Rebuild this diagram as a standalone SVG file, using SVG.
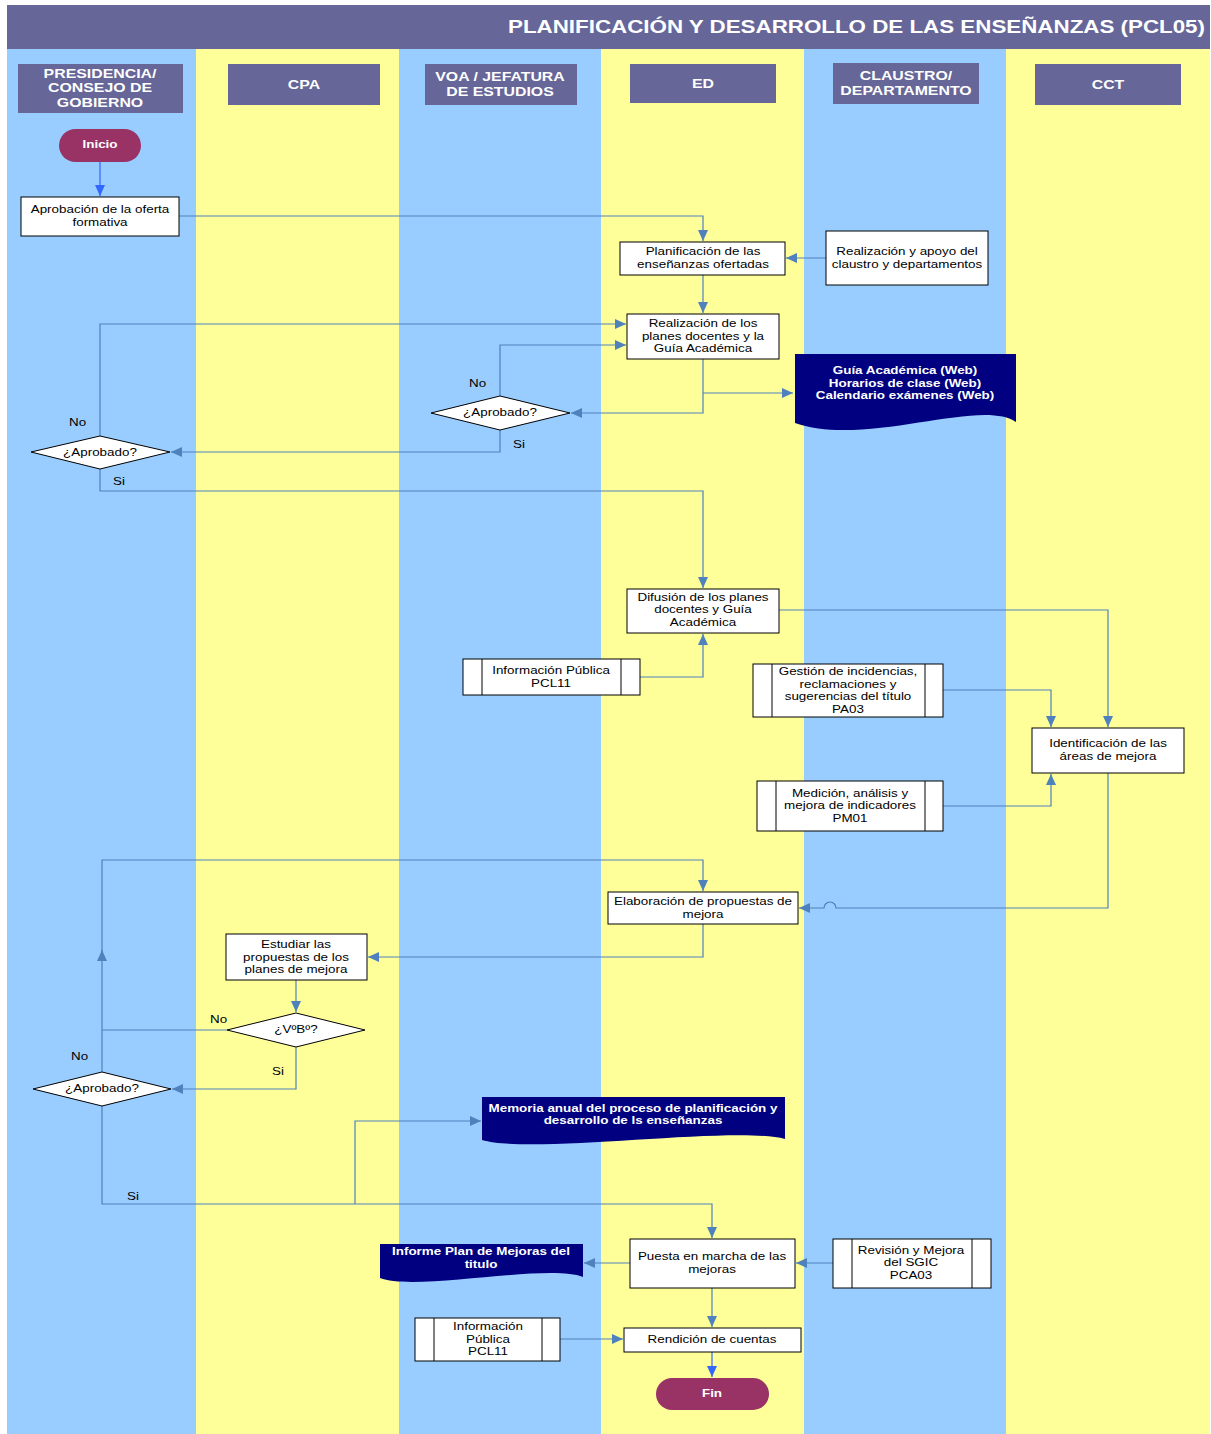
<svg xmlns="http://www.w3.org/2000/svg" width="1211" height="1434" viewBox="0 0 1211 1434">
<style>
.t{font-family:"Liberation Sans",Arial,sans-serif;font-size:11px;fill:#000;text-anchor:middle}
.w{font-family:"Liberation Sans",Arial,sans-serif;font-size:11px;font-weight:bold;fill:#fff;text-anchor:middle}
.h{font-family:"Liberation Sans",Arial,sans-serif;font-size:13px;font-weight:bold;fill:#fff;text-anchor:middle}
.lbl{font-family:"Liberation Sans",Arial,sans-serif;font-size:11px;fill:#000}
.box{fill:#fff;stroke:#000;stroke-width:1}
.hdr{fill:#666699}
.doc{fill:#000080}
.term{fill:#993366}
.c{fill:none;stroke:#4F81BD;stroke-width:1.2}
.cb{fill:none;stroke:#3366FF;stroke-width:1.2}
.blue{fill:#99CCFF}
.yel{fill:#FFFF99}
</style>
<defs>
<marker id="a" markerUnits="userSpaceOnUse" markerWidth="12" markerHeight="10" refX="11" refY="5" orient="auto"><path d="M0,0 L11,5 L0,10 Z" fill="#4F81BD"/></marker>
<marker id="ab" markerUnits="userSpaceOnUse" markerWidth="12" markerHeight="10" refX="11" refY="5" orient="auto"><path d="M0,0 L11,5 L0,10 Z" fill="#3366FF"/></marker>
</defs>
<rect width="1211" height="1434" fill="#fff"/>
<g id="lanes">
<rect class="blue" x="7" y="49" width="189" height="1385"/>
<rect class="yel" x="196" y="49" width="203" height="1385"/>
<rect class="blue" x="399" y="49" width="202" height="1385"/>
<rect class="yel" x="601" y="49" width="203" height="1385"/>
<rect class="blue" x="804" y="49" width="202" height="1385"/>
<rect class="yel" x="1006" y="49" width="204" height="1385"/>
<rect class="hdr" x="7" y="5" width="1203" height="44"/>
<text x="508" y="33" font-family="Liberation Sans,Arial,sans-serif" font-size="19" font-weight="bold" fill="#fff" textLength="697" lengthAdjust="spacingAndGlyphs">PLANIFICACIÓN Y DESARROLLO DE LAS ENSEÑANZAS (PCL05)</text>
<rect class="hdr" x="18" y="64" width="165" height="49"/>
<g transform="translate(100,0) scale(1.22,1)"><text class="h" x="0" y="78">PRESIDENCIA/</text><text class="h" x="0" y="92">CONSEJO DE</text><text class="h" x="0" y="107">GOBIERNO</text></g>
<rect class="hdr" x="228" y="64" width="152" height="41"/>
<g transform="translate(304,0) scale(1.22,1)"><text class="h" x="0" y="89">CPA</text></g>
<rect class="hdr" x="425" y="64" width="152" height="41"/>
<g transform="translate(500,0) scale(1.22,1)"><text class="h" x="0" y="81">VOA / JEFATURA</text><text class="h" x="0" y="96">DE ESTUDIOS</text></g>
<rect class="hdr" x="630" y="64" width="146" height="39"/>
<g transform="translate(703,0) scale(1.22,1)"><text class="h" x="0" y="88">ED</text></g>
<rect class="hdr" x="833" y="63" width="146" height="41"/>
<g transform="translate(906,0) scale(1.22,1)"><text class="h" x="0" y="80">CLAUSTRO/</text><text class="h" x="0" y="95">DEPARTAMENTO</text></g>
<rect class="hdr" x="1035" y="64" width="146" height="41"/>
<g transform="translate(1108,0) scale(1.22,1)"><text class="h" x="0" y="89">CCT</text></g>
</g>
<g id="connectors">
<path class="cb" d="M100,162 V196" marker-end="url(#ab)"/>
<path class="c" d="M179,216 H703 V241" marker-end="url(#a)"/>
<path class="c" d="M826,258 H786" marker-end="url(#a)"/>
<path class="c" d="M703,275 V313" marker-end="url(#a)"/>
<path class="c" d="M703,359 V413 H571" marker-end="url(#a)"/>
<path class="c" d="M703,393 H793" marker-end="url(#a)"/>
<path class="c" d="M500,396 V345 H626" marker-end="url(#a)"/>
<path class="c" d="M500,430 V452 H171" marker-end="url(#a)"/>
<path class="c" d="M100,436 V324 H626" marker-end="url(#a)"/>
<path class="c" d="M100,469 V491 H703 V588" marker-end="url(#a)"/>
<path class="c" d="M779,610 H1108 V727" marker-end="url(#a)"/>
<path class="c" d="M640,677 H703 V634" marker-end="url(#a)"/>
<path class="c" d="M943,690 H1051 V727" marker-end="url(#a)"/>
<path class="c" d="M943,806 H1051 V774" marker-end="url(#a)"/>
<path class="c" d="M1108,773 V908 H836 A6,6 0 0 0 824,908 H799" marker-end="url(#a)"/>
<path class="c" d="M703,924 V957 H368" marker-end="url(#a)"/>
<path class="c" d="M296,980 V1012" marker-end="url(#a)"/>
<path class="c" d="M227,1030 H102"/>
<path class="c" d="M296,1047 V1089 H172" marker-end="url(#a)"/>
<path class="c" d="M102,1072 V950" marker-end="url(#a)"/>
<path class="c" d="M102,952 V860 H703 V891" marker-end="url(#a)"/>
<path class="c" d="M102,1106 V1204 H712 V1238" marker-end="url(#a)"/>
<path class="c" d="M355,1204 V1121 H481" marker-end="url(#a)"/>
<path class="c" d="M630,1263 H584" marker-end="url(#a)"/>
<path class="c" d="M833,1263 H796" marker-end="url(#a)"/>
<path class="c" d="M712,1288 V1327" marker-end="url(#a)"/>
<path class="c" d="M560,1339 H623" marker-end="url(#a)"/>
<path class="cb" d="M712,1352 V1377" marker-end="url(#ab)"/>
<g transform="translate(469,0) scale(1.22,1)"><text class="lbl" x="0" y="387">No</text></g>
<g transform="translate(513,0) scale(1.22,1)"><text class="lbl" x="0" y="448">Si</text></g>
<g transform="translate(69,0) scale(1.22,1)"><text class="lbl" x="0" y="426">No</text></g>
<g transform="translate(113,0) scale(1.22,1)"><text class="lbl" x="0" y="485">Si</text></g>
<g transform="translate(210,0) scale(1.22,1)"><text class="lbl" x="0" y="1023">No</text></g>
<g transform="translate(272,0) scale(1.22,1)"><text class="lbl" x="0" y="1075">Si</text></g>
<g transform="translate(71,0) scale(1.22,1)"><text class="lbl" x="0" y="1060">No</text></g>
<g transform="translate(127,0) scale(1.22,1)"><text class="lbl" x="0" y="1200">Si</text></g>
</g>
<g id="inicio"><rect class="term" x="59" y="129" width="82" height="33" rx="16.5"/><g transform="translate(100,0) scale(1.22,1)"><text class="w" x="0" y="148">Inicio</text></g></g>
<g id="aprobacion"><rect class="box" x="21" y="197" width="158" height="39"/><g transform="translate(100,0) scale(1.22,1)"><text class="t" x="0" y="213">Aprobación de la oferta</text><text class="t" x="0" y="226">formativa</text></g></g>
<g id="planificacion"><rect class="box" x="620" y="242" width="165" height="33"/><g transform="translate(703,0) scale(1.22,1)"><text class="t" x="0" y="255">Planificación de las</text><text class="t" x="0" y="268">enseñanzas ofertadas</text></g></g>
<g id="apoyo"><rect class="box" x="826" y="231" width="162" height="54"/><g transform="translate(907,0) scale(1.22,1)"><text class="t" x="0" y="255">Realización y apoyo del</text><text class="t" x="0" y="268">claustro y departamentos</text></g></g>
<g id="realizacion"><rect class="box" x="627" y="314" width="152" height="45"/><g transform="translate(703,0) scale(1.22,1)"><text class="t" x="0" y="327">Realización de los</text><text class="t" x="0" y="340">planes docentes y la</text><text class="t" x="0" y="352">Guía Académica</text></g></g>
<g id="doc-guia"><path class="doc" d="M795,354 H1016 V422 C981,397 865,448 795,423 Z"/><g transform="translate(905,0) scale(1.22,1)"><text class="w" x="0" y="374">Guía Académica (Web)</text><text class="w" x="0" y="387">Horarios de clase (Web)</text><text class="w" x="0" y="399">Calendario exámenes (Web)</text></g></g>
<g id="dec1"><path class="box" d="M431,413 L500,396 L570,413 L500,430 Z"/><g transform="translate(500,0) scale(1.22,1)"><text class="t" x="0" y="416">¿Aprobado?</text></g></g>
<g id="dec2"><path class="box" d="M31,452 L100,436 L170,452 L100,469 Z"/><g transform="translate(100,0) scale(1.22,1)"><text class="t" x="0" y="456">¿Aprobado?</text></g></g>
<g id="difusion"><rect class="box" x="627" y="589" width="152" height="44"/><g transform="translate(703,0) scale(1.22,1)"><text class="t" x="0" y="601">Difusión de los planes</text><text class="t" x="0" y="613">docentes y Guía</text><text class="t" x="0" y="626">Académica</text></g></g>
<g id="pcl11a"><rect class="box" x="463" y="659" width="177" height="36"/><path d="M482,659 V695 M621,659 V695" stroke="#000"/><g transform="translate(551,0) scale(1.22,1)"><text class="t" x="0" y="674">Información Pública</text><text class="t" x="0" y="687">PCL11</text></g></g>
<g id="pa03"><rect class="box" x="753" y="664" width="190" height="53"/><path d="M772,664 V717 M925,664 V717" stroke="#000"/><g transform="translate(848,0) scale(1.22,1)"><text class="t" x="0" y="675">Gestión de incidencias,</text><text class="t" x="0" y="688">reclamaciones y</text><text class="t" x="0" y="700">sugerencias del título</text><text class="t" x="0" y="713">PA03</text></g></g>
<g id="identificacion"><rect class="box" x="1032" y="728" width="152" height="45"/><g transform="translate(1108,0) scale(1.22,1)"><text class="t" x="0" y="747">Identificación de las</text><text class="t" x="0" y="760">áreas de mejora</text></g></g>
<g id="pm01"><rect class="box" x="757" y="781" width="186" height="50"/><path d="M776,781 V831 M925,781 V831" stroke="#000"/><g transform="translate(850,0) scale(1.22,1)"><text class="t" x="0" y="797">Medición, análisis y</text><text class="t" x="0" y="809">mejora de indicadores</text><text class="t" x="0" y="822">PM01</text></g></g>
<g id="elaboracion"><rect class="box" x="608" y="892" width="190" height="32"/><g transform="translate(703,0) scale(1.22,1)"><text class="t" x="0" y="905">Elaboración de propuestas de</text><text class="t" x="0" y="918">mejora</text></g></g>
<g id="estudiar"><rect class="box" x="226" y="934" width="141" height="46"/><g transform="translate(296,0) scale(1.22,1)"><text class="t" x="0" y="948">Estudiar las</text><text class="t" x="0" y="961">propuestas de los</text><text class="t" x="0" y="973">planes de mejora</text></g></g>
<g id="dec3"><path class="box" d="M227,1030 L296,1013 L365,1030 L296,1047 Z"/><g transform="translate(296,0) scale(1.22,1)"><text class="t" x="0" y="1033">¿VºBº?</text></g></g>
<g id="dec4"><path class="box" d="M33,1089 L102,1072 L171,1089 L102,1106 Z"/><g transform="translate(102,0) scale(1.22,1)"><text class="t" x="0" y="1092">¿Aprobado?</text></g></g>
<g id="doc-memoria"><path class="doc" d="M482,1097 H785 V1139 C735,1125 532,1155 482,1140 Z"/><g transform="translate(633,0) scale(1.22,1)"><text class="w" x="0" y="1112">Memoria anual del proceso de planificación y</text><text class="w" x="0" y="1124">desarrollo de ls enseñanzas</text></g></g>
<g id="puesta"><rect class="box" x="630" y="1239" width="165" height="49"/><g transform="translate(712,0) scale(1.22,1)"><text class="t" x="0" y="1260">Puesta en marcha de las</text><text class="t" x="0" y="1273">mejoras</text></g></g>
<g id="doc-informe"><path class="doc" d="M380,1244 H583 V1277 C548,1263 415,1292 380,1278 Z"/><g transform="translate(481,0) scale(1.22,1)"><text class="w" x="0" y="1255">Informe Plan de Mejoras del</text><text class="w" x="0" y="1268">titulo</text></g></g>
<g id="pca03"><rect class="box" x="833" y="1239" width="158" height="49"/><path d="M852,1239 V1288 M972,1239 V1288" stroke="#000"/><g transform="translate(911,0) scale(1.22,1)"><text class="t" x="0" y="1254">Revisión y Mejora</text><text class="t" x="0" y="1266">del SGIC</text><text class="t" x="0" y="1279">PCA03</text></g></g>
<g id="pcl11b"><rect class="box" x="415" y="1318" width="145" height="43"/><path d="M434,1318 V1361 M542,1318 V1361" stroke="#000"/><g transform="translate(488,0) scale(1.22,1)"><text class="t" x="0" y="1330">Información</text><text class="t" x="0" y="1343">Pública</text><text class="t" x="0" y="1355">PCL11</text></g></g>
<g id="rendicion"><rect class="box" x="624" y="1328" width="177" height="24"/><g transform="translate(712,0) scale(1.22,1)"><text class="t" x="0" y="1343">Rendición de cuentas</text></g></g>
<g id="fin"><rect class="term" x="656" y="1378" width="113" height="32" rx="16"/><g transform="translate(712,0) scale(1.22,1)"><text class="w" x="0" y="1397">Fin</text></g></g>
</svg>
